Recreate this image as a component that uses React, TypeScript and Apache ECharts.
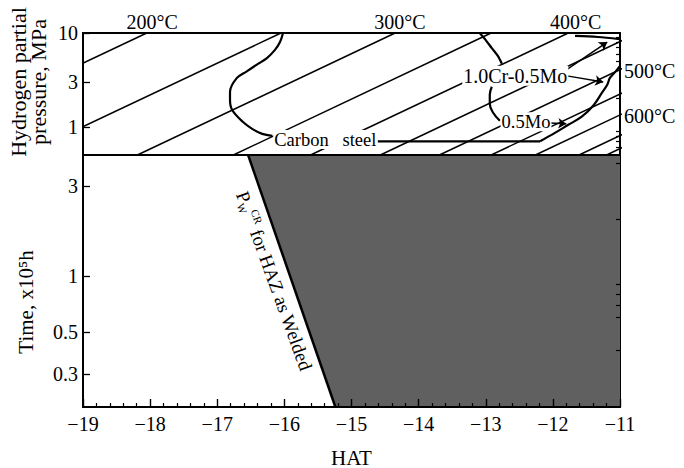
import { useEffect, useRef } from 'react';
import * as echarts from 'echarts';

const FONT = '"Liberation Serif", "Times New Roman", Times, serif';
const L = (v: number) => Math.log10(v);

// ---- axes ----
const HAT_MIN = -19;
const HAT_MAX = -11;
const HAT_INTERVAL = 1;

const pressureMin = 0.5;
const pressureMax = 10;
const pressureLabelTicks = [1, 3, 10];
const pressureMinorTicks = [0.6, 0.7, 0.8, 0.9, 2, 4, 5, 6, 7, 8, 9];

const timeMin = 0.2;
const timeMax = 4.4;
const timeLabelTicks = [0.3, 0.5, 1, 3];
const timeMinorTicks = [0.4, 0.6, 0.7, 0.8, 0.9, 2, 4];

// ---- isotherms (HAT where each line meets P = 0.5 and P = 10 MPa) ----
const isoHatAtPBottom = [-21.89, -19.89, -18.19, -16.76, -15.61, -14.57, -13.69, -12.92, -12.26, -11.61, -11.2];
const isoHatAtPTop = [-18.05, -16.05, -14.35, -12.92, -11.77, -10.73, -9.85, -9.08, -8.42, -7.77, -7.36];

// temperature labels
const topTempText = ['200°C', '300°C', '400°C'];
const topTempHat = [-17.97, -14.28, -11.66];
const sideTempText = ['500°C', '600°C'];
const sideTempP = [3.94, 1.31];

// ---- steel curves ----
const carbonHat = [-16.02, -16.065, -16.14, -16.26, -16.41, -16.56, -16.71, -16.81, -16.81, -16.78, -16.62, -16.48, -16.33, -16.18];
const carbonP = [10, 8.0, 6.6, 5.4, 4.6, 3.9, 3.3, 2.35, 1.94, 1.52, 1.13, 0.95, 0.84, 0.8];
const carbonTailHat = [-14.61, -12.19];
const carbonTailP = [0.7, 0.7];

const crMoUpperHat = [-13.09, -13.0, -12.91, -12.82, -12.76];
const crMoUpperP = [10, 8.4, 6.9, 5.7, 4.7];
const crMoLowerHat = [-12.91, -12.94, -12.94, -12.89, -12.79];
const crMoLowerP = [2.67, 2.19, 1.76, 1.41, 1.16];
const crMoTopHat = [-11.67, -11.33, -11.01];
const crMoTopP = [9.3, 9.06, 8.6];

const moRightHat = [-12.19, -11.97, -11.77, -11.57, -11.39, -11.27, -11.19, -11.15, -11.07, -11.0];
const moRightP = [0.7, 0.86, 1.05, 1.28, 1.71, 2.3, 2.8, 3.32, 3.85, 4.46];

// arrows
const arrowFromHat = [-11.8, -11.79, -12.04];
const arrowFromP = [4.04, 3.49, 1.1];
const arrowToHat = [-11.19, -11.25, -11.8];
const arrowToP = [8.0, 3.01, 1.08];

// curve labels
const curveLabelText = ['Carbon   steel', '1.0Cr-0.5Mo', '0.5Mo'];
const curveLabelHat = [-15.39, -12.56, -12.4];
const curveLabelP = [0.73, 3.49, 1.13];
const curveLabelSize = [18.5, 20, 18.5];

// ---- bottom panel ----
const pwHat = [-16.54, -15.24];
const pwTime = [4.4, 0.2];
const shadeHat = [-16.54, -11, -11, -15.24];
const shadeTime = [4.4, 4.4, 0.2, 0.2];
const pwLabelHat = -16.15;
const pwLabelTime = 0.94;

const logFmt = (v: number) => String(+Math.pow(10, v).toPrecision(2));

export default function App() {
  const ref = useRef<HTMLDivElement>(null);

  useEffect(() => {
    if (!ref.current) return;
    const chart = echarts.init(ref.current, undefined, { renderer: 'svg' });

    const black = '#000';
    const series: any[] = [];

    isoHatAtPBottom.forEach((h0, i) => {
      series.push({
        type: 'line', xAxisIndex: 0, yAxisIndex: 0, symbol: 'none', showSymbol: false, clip: true, silent: true,
        data: [[h0, L(pressureMin)], [isoHatAtPTop[i], L(pressureMax)]],
        lineStyle: { color: black, width: 1.5 },
        z: 2,
      });
    });

    const curve = (hats: number[], ps: number[], smooth: number, extra: any = {}) => ({
      type: 'line', xAxisIndex: 0, yAxisIndex: 0, symbol: 'none', showSymbol: false, clip: true, silent: true,
      smooth,
      data: hats.map((h, i) => [h, L(ps[i])]),
      lineStyle: { color: black, width: 2.2 },
      z: 3,
      ...extra,
    });

    series.push(curve(carbonHat, carbonP, 0.35));
    series.push(curve(carbonTailHat, carbonTailP, 0));
    series.push(curve(crMoUpperHat, crMoUpperP, 0.3));
    series.push(curve(crMoLowerHat, crMoLowerP, 0.4));
    series.push(curve(crMoTopHat, crMoTopP, 0.3));
    series.push(curve(moRightHat, moRightP, 0.35, {
      markLine: {
        silent: true,
        animation: false,
        symbol: ['none', 'arrow'],
        symbolSize: 8,
        label: { show: false },
        itemStyle: { color: black },
        lineStyle: { color: black, width: 1.5, type: 'solid', opacity: 1 },
        emphasis: { disabled: true },
        data: arrowFromHat.map((h, i) => [
          { coord: [h, L(arrowFromP[i])] },
          { coord: [arrowToHat[i], L(arrowToP[i])] },
        ]),
      },
    }));

    const labelBase = { color: black, fontFamily: FONT, opacity: 1, textBorderWidth: 0 };
    const hidden = { symbolSize: 0, itemStyle: { color: black }, silent: true, clip: false, z: 10 };

    series.push({
      type: 'scatter', xAxisIndex: 0, yAxisIndex: 0, ...hidden,
      data: topTempText.map((t, i) => ({ name: t, value: [topTempHat[i], L(pressureMax)] })),
      label: { show: true, position: 'top', distance: 1, formatter: '{b}', fontSize: 20, ...labelBase },
    });
    series.push({
      type: 'scatter', xAxisIndex: 0, yAxisIndex: 0, ...hidden,
      data: sideTempText.map((t, i) => ({ name: t, value: [HAT_MAX, L(sideTempP[i])] })),
      label: { show: true, position: 'right', distance: 4, formatter: '{b}', fontSize: 20, ...labelBase },
    });
    series.push({
      type: 'scatter', xAxisIndex: 0, yAxisIndex: 0, ...hidden,
      data: curveLabelText.map((t, i) => ({
        name: t,
        value: [curveLabelHat[i], L(curveLabelP[i])],
        label: { fontSize: curveLabelSize[i] },
      })),
      label: {
        show: true, position: 'inside', formatter: '{b}', fontSize: 18.5, ...labelBase,
        backgroundColor: '#fff', padding: [0, 1],
      },
    });

    // bottom panel
    series.push({
      type: 'custom', xAxisIndex: 1, yAxisIndex: 2, silent: true, z: 1,
      data: [[-15, 0]],
      renderItem: (_p: any, api: any) => ({
        type: 'polygon',
        shape: { points: shadeHat.map((h, i) => api.coord([h, L(shadeTime[i])])) },
        style: { fill: '#606060' },
      }),
    });
    series.push({
      type: 'line', xAxisIndex: 1, yAxisIndex: 2, symbol: 'none', showSymbol: false, silent: true, z: 3,
      data: pwHat.map((h, i) => [h, L(pwTime[i])]),
      lineStyle: { color: black, width: 2.5 },
    });
    series.push({
      type: 'scatter', xAxisIndex: 1, yAxisIndex: 2, ...hidden,
      data: [{ name: 'pw', value: [pwLabelHat, L(pwLabelTime)] }],
      label: {
        show: true, position: 'inside', rotate: -70,
        formatter: '{p|P}{w|W}{c|CR}{t| for HAZ as Welded}',
        ...labelBase, fontSize: 19,
        rich: {
          p: { fontSize: 19, fontFamily: FONT, color: black, lineHeight: 22, verticalAlign: 'middle' },
          w: { fontSize: 11, fontFamily: FONT, color: black, lineHeight: 22, verticalAlign: 'bottom' },
          c: { fontSize: 11, fontFamily: FONT, color: black, lineHeight: 22, verticalAlign: 'top' },
          t: { fontSize: 19, fontFamily: FONT, color: black, lineHeight: 22, verticalAlign: 'middle' },
        },
      },
    });

    const yMain = (gridIndex: number, min: number, max: number, labels: number[]) => ({
      type: 'value', gridIndex, min: L(min), max: L(max), z: 5,
      axisLine: { show: true, onZero: false, lineStyle: { color: black, width: 2 } },
      axisTick: { show: true, inside: true, length: 7, customValues: labels.map(L), lineStyle: { color: black, width: 1.3 } },
      axisLabel: { show: true, customValues: labels.map(L), formatter: logFmt, margin: 5, color: black, fontFamily: FONT, fontSize: 20 },
      splitLine: { show: false },
    });
    const yMinor = (gridIndex: number, min: number, max: number, ticks: number[]) => ({
      type: 'value', gridIndex, min: L(min), max: L(max), z: 5,
      axisLine: { show: false, onZero: false },
      axisTick: { show: true, inside: true, length: 4, customValues: ticks.map(L), lineStyle: { color: black, width: 1.2 } },
      axisLabel: { show: false },
      splitLine: { show: false },
    });

    const option: any = {
      animation: false,
      backgroundColor: '#fff',
      grid: [
        { left: 83, right: 64, top: 33, height: 122, show: true, borderColor: black, borderWidth: 2, backgroundColor: 'transparent', containLabel: false, outerBoundsMode: 'none' },
        { left: 83, right: 64, top: 155, height: 252, show: true, borderColor: black, borderWidth: 2, backgroundColor: 'transparent', containLabel: false, outerBoundsMode: 'none' },
      ],
      xAxis: [
        {
          type: 'value', gridIndex: 0, min: HAT_MIN, max: HAT_MAX, interval: HAT_INTERVAL, z: 5,
          axisLine: { show: true, onZero: false, lineStyle: { color: black, width: 2 } },
          axisTick: { show: false }, axisLabel: { show: false }, splitLine: { show: false },
        },
        {
          type: 'value', gridIndex: 1, min: HAT_MIN, max: HAT_MAX, interval: HAT_INTERVAL, z: 5,
          name: 'HAT', nameLocation: 'middle', nameGap: 40,
          nameTextStyle: { color: black, fontFamily: FONT, fontSize: 21 },
          axisLine: { show: true, onZero: false, lineStyle: { color: black, width: 2 } },
          axisTick: { show: true, inside: true, length: 8, lineStyle: { color: black, width: 1.4 } },
          minorTick: { show: true, splitNumber: 5, length: 4, lineStyle: { color: black, width: 1.2 } },
          axisLabel: {
            show: true, margin: 7, color: black, fontFamily: FONT, fontSize: 20,
            formatter: (v: number) => String(v).replace('-', '\u2212'),
          },
          splitLine: { show: false },
        },
      ],
      yAxis: [
        yMain(0, pressureMin, pressureMax, pressureLabelTicks),
        yMinor(0, pressureMin, pressureMax, pressureMinorTicks),
        yMain(1, timeMin, timeMax, timeLabelTicks),
        yMinor(1, timeMin, timeMax, timeMinorTicks),
      ],
      graphic: [
        {
          type: 'text', x: 28, y: 82, rotation: Math.PI / 2, silent: true,
          style: {
            text: 'Hydrogen partial\npressure, MPa', fill: black, fontFamily: FONT, fontSize: 22,
            lineHeight: 20, align: 'center', verticalAlign: 'middle',
          },
        },
        {
          type: 'text', x: 26, y: 302, rotation: Math.PI / 2, silent: true,
          style: {
            text: 'Time, x10\u2075h', fill: black, fontFamily: FONT, fontSize: 21,
            align: 'center', verticalAlign: 'middle',
          },
        },
      ],
      series,
    };

    chart.setOption(option);
    return () => chart.dispose();
  }, []);

  return <div ref={ref} style={{ position: 'absolute', left: 0, top: 0, width: 684, height: 468 }} />;
}
